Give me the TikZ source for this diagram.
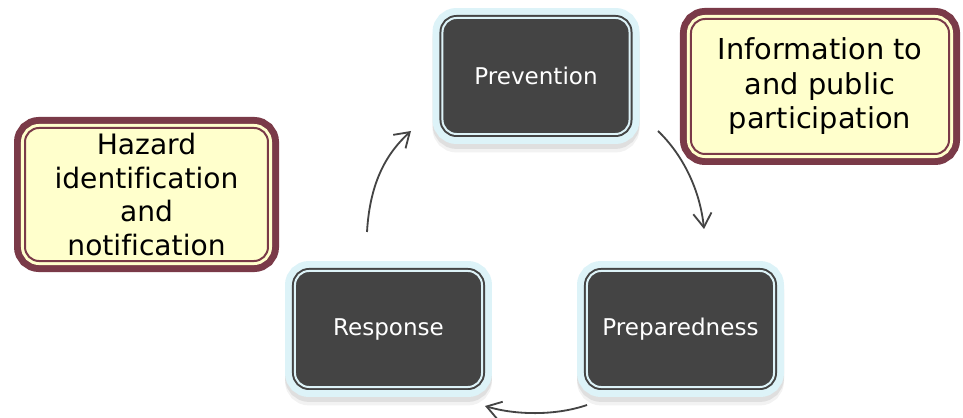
\documentclass[tikz,border=0pt]{standalone}
\usepackage{fontspec}
\setmainfont[Ligatures=NoCommon]{DejaVu Sans}
\usetikzlibrary{arrows.meta}
\definecolor{lblue}{HTML}{DDF3F8}
\definecolor{dgray}{HTML}{444444}
\definecolor{maroonc}{HTML}{7A3A48}
\definecolor{cream}{HTML}{FFFFCC}
\tikzset{
  phase/.style={rectangle, rounded corners=10pt, inner sep=0pt,
    minimum width=133pt, minimum height=82.5pt,
    fill=dgray, draw=dgray, line width=1.42pt, double=lblue, double distance=1.42pt,
    text=white, font=\fontsize{16.4}{19}\selectfont,
    preaction={draw=black, opacity=0.05, line width=14.2pt, transform canvas={yshift=-6pt}},
    preaction={draw=black, opacity=0.08, line width=14.2pt, transform canvas={yshift=-3.5pt}},
    preaction={draw=lblue, line width=14.2pt}},
  note/.style={rectangle, rounded corners=10pt, inner sep=0pt, align=center,
    fill=cream, draw=maroonc, line width=1.42pt, text=black,
    preaction={draw=maroonc, line width=15.65pt},
    preaction={draw=cream, line width=5.7pt}},
  cyc/.style={draw=dgray, line width=1.3pt, -{Straight Barb[length=10pt,width=13pt]}}
}
\begin{document}
\begin{tikzpicture}[x=0.025cm, y=-0.025cm]
\useasboundingbox (0,0) rectangle (963,418);
\node[phase] (prev) at (536,76) {Prevention};
\node[phase] (resp) at (388.5,329) {Response};
\node[phase] (prep) at (680.5,329) {Preparedness};
\node[note, minimum width=172.8pt, minimum height=94.6pt,
  font=\fontsize{20}{24}\selectfont] (haz) at (146.5,194.5)
  {Hazard\\identification\\and\\notification};
\node[note, minimum width=183.5pt, minimum height=96pt,
  font=\fontsize{20.5}{24.5}\selectfont] (info) at (820,86.5)
  {Information to\\and public\\participation};
\coordinate (a1s) at (367,232);
\coordinate (a1e) at (411,131);
\coordinate (a2s) at (658,131);
\coordinate (a2e) at (704,229);
\coordinate (a3s) at (587,405);
\coordinate (a3e) at (485,406);
\draw[cyc] (a1s) .. controls (370,180) and (388,152) .. (a1e);
\draw[cyc] (a2s) .. controls (683,155) and (700,190) .. (a2e);
\draw[cyc] (a3s) .. controls (555,416) and (515,415) .. (a3e);
\end{tikzpicture}
\end{document}
